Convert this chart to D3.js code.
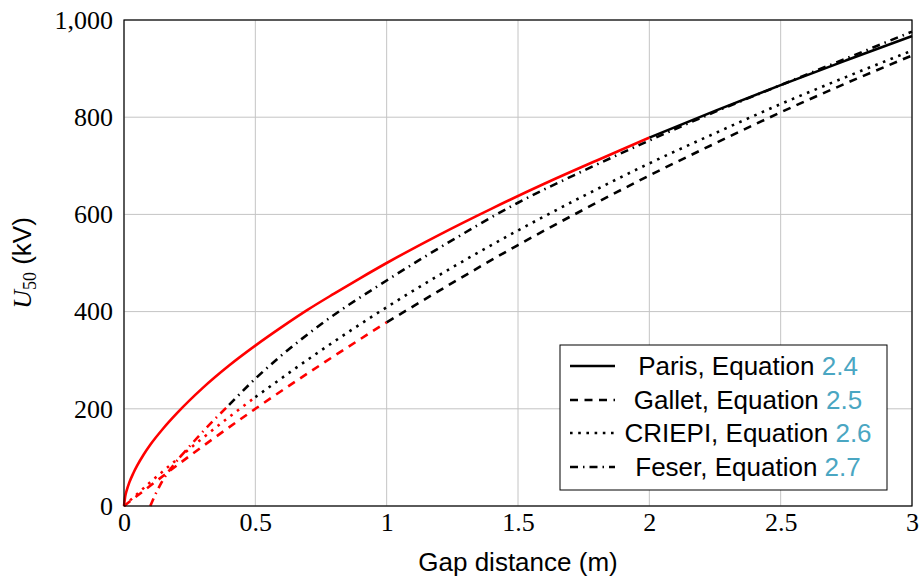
<!DOCTYPE html>
<html><head><meta charset="utf-8">
<script src="https://cdn.jsdelivr.net/npm/d3@7"></script>
<style>body{margin:0;background:#fff}svg{display:block}</style>
</head><body><svg id="c" width="919" height="578"></svg>
<script>
const xTicks=[0,0.5,1,1.5,2,2.5,3];
const yTicks=[0,200,400,600,800,1000];
const parisD=[0,0.005,0.01,0.02,0.035,0.05,0.075,0.1,0.15,0.2,0.3,0.4,0.5,0.6,0.7,0.8,0.9,1,1.2,1.4,1.6,1.8,2,2.25,2.5,2.75,3];
const parisU=[0,21,31.5,48,67,83,106,126,160,190,243,289,330,368,404,437,469,500,558,612,663,711,758,813,866,917,967];
const galletD=[0,0.25,0.5,0.75,1,1.25,1.5,1.75,2,2.25,2.5,2.75,3];
const galletU=[0,103,200,291,378,459,537,610,680,746,810,870,927];
const criepiD=[0,0.1,0.2,0.3,0.4,0.5,0.75,1,1.25,1.5,1.75,2,2.25,2.5,2.75,3];
const criepiU=[0,49,95,140,183,224,320,409,491,567,638,705,767,827,883,937];
const feserD=[0.1,0.125,0.15,0.2,0.25,0.3,0.4,0.5,0.6,0.75,1,1.25,1.5,1.75,2,2.25,2.5,2.75,3];
const feserU=[0,30,55,92,123,153,208,262,310,374,464,547,624,690,752,811,866,921,976];
const seriesNames=["Paris","Gallet","CRIEPI","Feser"];
const eqNumbers=["2.4","2.5","2.6","2.7"];
const redUntil=[2,1,0.5,0.4];

const svg=d3.select("#c");
const L=124,R=912,T=20,B=506;
const x=d3.scaleLinear().domain([0,3]).range([L,R]);
const y=d3.scaleLinear().domain([0,1000]).range([B,T]);

const grid=svg.append("g").attr("stroke","#c4c4c4").attr("stroke-width",1);
xTicks.forEach(t=>grid.append("line").attr("x1",x(t)).attr("x2",x(t)).attr("y1",T).attr("y2",B));
yTicks.forEach(t=>grid.append("line").attr("x1",L).attr("x2",R).attr("y1",y(t)).attr("y2",y(t)));

const fmt=d3.format(",");
const xa=svg.append("g").attr("transform",`translate(0,${B})`).call(d3.axisBottom(x).tickValues(xTicks).tickSize(0).tickPadding(7).tickFormat(d=>d));
const ya=svg.append("g").attr("transform",`translate(${L},0)`).call(d3.axisLeft(y).tickValues(yTicks).tickSize(0).tickPadding(11).tickFormat(fmt));
[xa,ya].forEach(a=>{a.select(".domain").remove();a.selectAll("text").attr("font-family","'Liberation Serif',serif").attr("font-size",26).attr("fill","#000");});

const dashes=[null,"8,6.5","2.6,5.6","8,5,1.5,5"];
const data=[[parisD,parisU],[galletD,galletU],[criepiD,criepiU],[feserD,feserU]];
const line=d3.line().x(p=>x(p[0])).y(p=>y(p[1])).curve(d3.curveMonotoneX);
const cg=svg.append("g").attr("fill","none").attr("stroke-width",2.6);
data.forEach(([D,U],i)=>{
  const pts=D.map((d,k)=>[d,U[k]]);
  const red=pts.filter(p=>p[0]<=redUntil[i]);
  const blk=pts.filter(p=>p[0]>=redUntil[i]);
  [[blk,"#000"],[red,"#ff0000"]].forEach(([ps,c])=>{
    if(ps.length<2) return;
    const p=cg.append("path").attr("d",line(ps)).attr("stroke",c);
    if(dashes[i]) p.attr("stroke-dasharray",dashes[i]);
  });
});

svg.append("rect").attr("x",L).attr("y",T).attr("width",R-L).attr("height",B-T).attr("fill","none").attr("stroke","#000").attr("stroke-width",1.2);

// legend
const lg=svg.append("g");
lg.append("rect").attr("x",560).attr("y",345).attr("width",327).attr("height",145).attr("fill","#fff").attr("stroke","#000").attr("stroke-width",1);
const rowsY=[366,400,433,467];
seriesNames.forEach((n,i)=>{
  const l=lg.append("line").attr("x1",570).attr("x2",615).attr("y1",rowsY[i]).attr("y2",rowsY[i]).attr("stroke","#000").attr("stroke-width",2.6);
  if(dashes[i]) l.attr("stroke-dasharray",dashes[i]);
  const t=lg.append("text").attr("x",748).attr("y",rowsY[i]+9).attr("text-anchor","middle")
    .attr("font-family","'Liberation Sans',Arial,sans-serif").attr("font-size",26).attr("fill","#000");
  t.append("tspan").text(n+", Equation ");
  t.append("tspan").attr("fill","#4aa6c2").text(eqNumbers[i]);
});

// axis labels
svg.append("text").attr("x",(L+R)/2).attr("y",571).attr("text-anchor","middle")
  .attr("font-family","'Liberation Sans',Arial,sans-serif").attr("font-size",26).text("Gap distance (m)");
const yl=svg.append("text").attr("transform",`translate(31,${(T+B)/2}) rotate(-90)`).attr("text-anchor","middle")
  .attr("font-family","'Liberation Sans',Arial,sans-serif").attr("font-size",26);
yl.append("tspan").attr("font-family","'Liberation Serif',serif").attr("font-style","italic").text("U");
yl.append("tspan").attr("font-family","'Liberation Serif',serif").attr("font-size",18).attr("dy",5).text("50");
yl.append("tspan").attr("dy",-5).text(" (kV)");
</script></body></html>
